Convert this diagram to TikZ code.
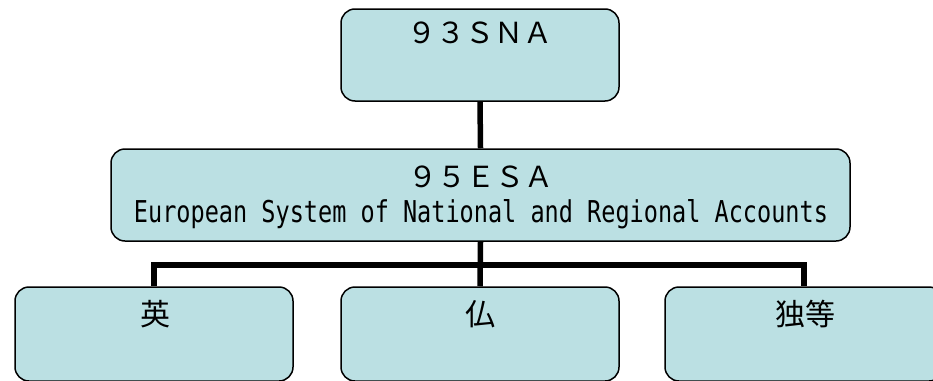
\documentclass[tikz,border=0pt]{standalone}
\usepackage{fontspec}
\setmainfont{Noto Sans CJK JP}
\newfontfamily\cjkfont{Noto Sans CJK JP}
\newfontfamily\latmono{DejaVu Sans Mono}
\usepackage{graphicx}
\definecolor{boxfill}{RGB}{187,224,227}
\begin{document}
\begin{tikzpicture}[x=1pt,y=-1pt,
  box/.style={draw=black, line width=1.5pt, fill=boxfill, rounded corners=14pt, inner sep=0pt, minimum height=92pt},
  conn/.style={draw=black, line width=5.5pt, line join=miter},
  lbl/.style={anchor=base, inner sep=0pt, font=\cjkfont\fontsize{29pt}{29pt}\selectfont}]
\useasboundingbox (0,0) rectangle (933,380);
\clip (0,0) rectangle (933,380);
% connectors (drawn first)
\coordinate (topc) at (480,55);
\coordinate (midc) at (480.5,195);
\coordinate (bus) at (480,265);
\node[box, minimum width=278pt, draw=none, fill=none] (top) at (topc) {};
\node[box, minimum width=739pt, draw=none, fill=none] (mid) at (midc) {};
\node[box, minimum width=278pt, minimum height=94pt, draw=none, fill=none] (b1) at (154,334) {};
\node[box, minimum width=278pt, minimum height=94pt, draw=none, fill=none] (b2) at (480,334) {};
\node[box, minimum width=278pt, minimum height=94pt, draw=none, fill=none] (b3) at (804,334) {};
\draw[conn] (top.south) -- (mid.north);
\draw[conn] (mid.south) -- (b2.north);
\draw[conn] (b1.north) -- (b1.north |- bus) -- (b3.north |- bus) -- (b3.north);
% boxes
\node[box, minimum width=278pt] (topbox) at (topc) {};
\node[box, minimum width=739pt] (midbox) at (midc) {};
\node[box, minimum width=278pt, minimum height=94pt] (b1box) at (154,334) {};
\node[box, minimum width=278pt, minimum height=94pt] (b2box) at (480,334) {};
\node[box, minimum width=278pt, minimum height=94pt] (b3box) at (804,334) {};
% labels
\node[lbl] (t1) at (480,43) {９３ＳＮＡ};
\node[lbl] (t2) at (480.5,187) {９５ＥＳＡ};
\node[anchor=base, inner sep=0pt] (t3) at (481,222) {\resizebox{694pt}{23pt}{\latmono\fontsize{24pt}{24pt}\selectfont European System of National and Regional Accounts}};
\node[lbl, font=\cjkfont\fontsize{30pt}{30pt}\selectfont] (l1) at (155,325) {英};
\node[lbl, font=\cjkfont\fontsize{30pt}{30pt}\selectfont] (l2) at (480,325) {仏};
\node[lbl, font=\cjkfont\fontsize{30pt}{30pt}\selectfont] (l3) at (805,325) {独等};
\end{tikzpicture}
\end{document}
